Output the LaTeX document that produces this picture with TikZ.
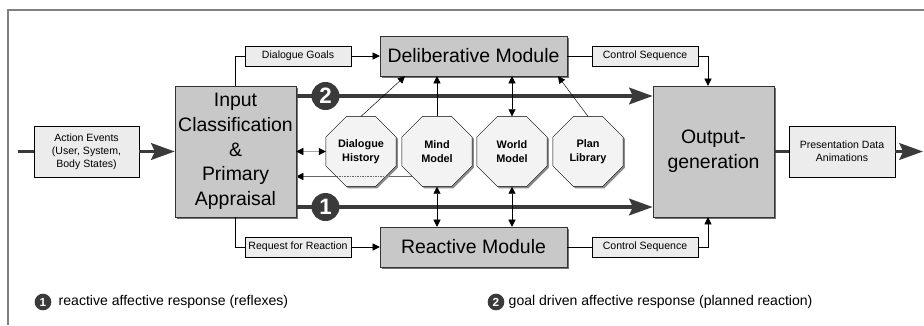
\documentclass[tikz,border=0pt]{standalone}
\usepackage{fontspec}
\setmainfont{Liberation Sans}
\usetikzlibrary{shapes.geometric,arrows.meta,shadows,backgrounds}

\definecolor{modgray}{HTML}{C8C8C8}
\definecolor{boxgray}{HTML}{ECECEC}
\definecolor{storegray}{HTML}{F3F3F3}
\definecolor{flowgray}{HTML}{3A3A3A}
\definecolor{framegray}{HTML}{808080}

\begin{document}
\begin{tikzpicture}[x=0.03cm,y=-0.03cm]
  \useasboundingbox (0,0) rectangle (924,325);
  \draw[framegray,line width=1.3pt] (8,325) -- (8,10) -- (924,10);

  \tikzstyle{module}=[rectangle,draw=black!80,fill=modgray,align=center,inner sep=0pt,
    font=\fontsize{16.6}{21}\selectfont,
    drop shadow={shadow xshift=2pt,shadow yshift=-2pt,fill=black!55,opacity=1}]
  \tikzstyle{sigbox}=[rectangle,draw,fill=boxgray,align=center,inner sep=1pt,
    font=\fontsize{9}{11}\selectfont,minimum width=3.18cm,minimum height=0.6cm]
  \tikzstyle{store}=[regular polygon,regular polygon sides=8,draw,fill=storegray,
    minimum size=2.28cm,inner sep=0pt,outer sep=0pt,align=center,font=\bfseries\fontsize{9.3}{12}\selectfont,
    drop shadow={shadow xshift=1.5pt,shadow yshift=-1.5pt,fill=black!45,opacity=1}]
  \tikzstyle{num}=[circle,fill=flowgray,text=white,inner sep=0pt,minimum size=0.84cm,
    font=\bfseries\fontsize{19}{19}\selectfont]
  \tikzstyle{flow}=[line width=3.4pt,draw=flowgray,-{Stealth[length=20pt,width=14pt,inset=3pt]}]
  \tikzstyle{link}=[draw,-{Triangle[length=6pt,width=6pt,color=black]}]
  \tikzstyle{both}=[draw,{Triangle[length=6pt,width=6pt]}-{Triangle[length=6pt,width=6pt]}]

  \node[sigbox,minimum width=3.15cm,minimum height=1.53cm] (act) at (86.5,151.5)
    {Action Events\\(User, System,\\Body States)};
  \node[module,minimum width=3.63cm,minimum height=3.93cm] (input) at (235.5,151.5)
    {Input\\Classification\\\&\\Primary\\Appraisal};
  \node[module,minimum width=5.61cm,minimum height=1.2cm] (delib) at (473.5,56) {Deliberative Module};
  \node[module,minimum width=5.61cm,minimum height=1.2cm] (react) at (473.5,247) {Reactive Module};
  \node[module,minimum width=3.63cm,minimum height=3.93cm] (output) at (713.5,151.5) {Output-\\generation};
  \node[sigbox,minimum height=1.53cm] (pres) at (842,151.5) {Presentation Data\\Animations};

  \node[sigbox] (goals)   at (298,56)  {Dialogue Goals};
  \node[sigbox] (request) at (298,247) {Request for Reaction};
  \node[sigbox] (ctrl-d)  at (645,56)  {Control Sequence};
  \node[sigbox] (ctrl-r)  at (645,247) {Control Sequence};

  \coordinate (in-start) at (18,151.5);
  \coordinate (out-end)  at (923,151.5);

%% main event flow
  \draw[flow,-] (in-start) -- (act);
  \draw[flow] (act) -- (input);
  \draw[flow,-] (output) -- (pres);
  \draw[flow] (pres) -- (out-end);
  \draw[flow] ([yshift=1.665cm] input.east) -- ([yshift=1.665cm] output.west)
    node[num,pos=0.082] (num2) {2};
  \draw[flow] ([yshift=-1.665cm] input.east) -- ([yshift=-1.665cm] output.west)
    node[num,pos=0.082] (num1) {1};

%% knowledge stores
  \foreach \name/\x/\txt in {hist/361/Dialogue\\History, mind/437/Mind\\Model,
                             world/512/World\\Model, plan/588/Plan\\Library}
    \node[store] (\name) at (\x,151.5) {\txt};

%% feedback from the mind model, running behind the dialogue history
  \path (mind.center) ++(-24,25) coordinate (mind-out);
  \begin{scope}[on background layer]
    \draw[link,draw=black!60] (mind-out) -- (input.east |- mind-out);
  \end{scope}
  \draw[densely dotted,black!60] (hist.center) ++(-24,25) -- ++(48,0);

%% module connections
  \draw (input.north) |- (goals);
  \draw[link] (goals) -- (delib);
  \draw (input.south) |- (request);
  \draw[link] (request) -- (react);
  \draw (delib) -- (ctrl-d);
  \draw[link] (ctrl-d) -| ([xshift=-0.165cm] output.north);
  \draw (react) -- (ctrl-r);
  \draw[link] (ctrl-r) -| ([xshift=-0.165cm] output.south);

%% store <-> module connections
  \draw[both] (input.east) -- (hist.west);
  \draw[link] (hist.north) -- ([xshift=-2.055cm] delib.south);
  \draw[link] (mind.north) -- (mind.north |- delib.south);
  \draw[both] (world.north) -- (world.north |- delib.south);
  \draw[link] (plan.north) -- ([xshift=2.535cm] delib.south);
  \draw[both] (mind.south) -- (mind.south |- react.north);
  \draw[both] (world.south) -- (world.south |- react.north);

%% key
  \tikzstyle{every node}=[font=\fontsize{12}{14}\selectfont]
  \node[num,minimum size=0.5cm,font=\bfseries\fontsize{10}{10}\selectfont] (key1) at (43,302) {1};
  \node[anchor=west] (key1-txt) at ([xshift=0.09cm] key1.east) {reactive affective response (reflexes)};
  \node[num,minimum size=0.5cm,font=\bfseries\fontsize{10}{10}\selectfont] (key2) at (496,302) {2};
  \node[anchor=west] (key2-txt) at (key2.east) {goal driven affective response (planned reaction)};
\end{tikzpicture}
\end{document}
